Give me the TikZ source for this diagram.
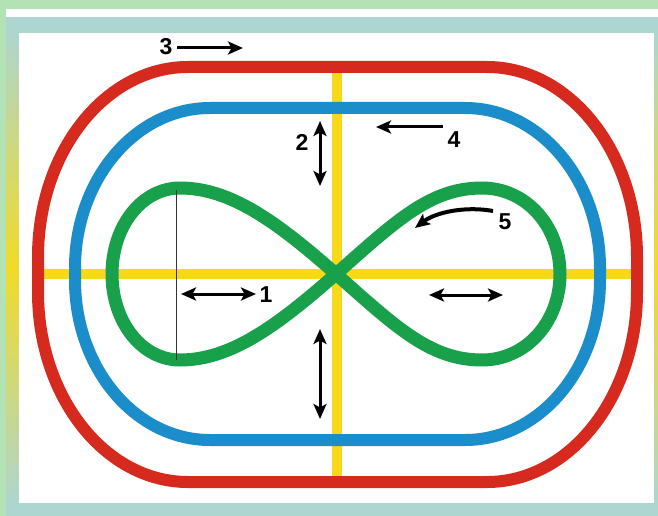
\documentclass[tikz,border=0pt]{standalone}
\usepackage{fontspec}
\setmainfont{Liberation Sans}
\usetikzlibrary{arrows.meta}
\definecolor{ringred}{HTML}{D62A1E}
\definecolor{ringblue}{HTML}{1B8DCB}
\definecolor{ringgreen}{HTML}{18A04A}
\definecolor{lineyellow}{HTML}{F7D91A}
\definecolor{bggreen}{HTML}{B3E2B4}
\definecolor{frameteal}{HTML}{AED6D0}
\definecolor{frameyellow}{HTML}{F2DA28}
\begin{document}
\begin{tikzpicture}[x=1pt,y=-1pt,
  ring/.style={line width=12pt, line join=round},
  cross/.style={line width=10.5pt, draw=lineyellow},
  arr/.style={line width=3pt, -{Stealth[length=15pt,width=13pt,inset=3.5pt]}},
  darr/.style={line width=3pt, {Stealth[length=15pt,width=13pt,inset=3.5pt]}-{Stealth[length=15pt,width=13pt,inset=3.5pt]}},
  lbl/.style={font=\bfseries\fontsize{23}{23}\selectfont, inner sep=0pt}]
\useasboundingbox (0,0) rectangle (658,516);
% frame
\fill[bggreen] (0,0) rectangle (658,516);
\fill[white] (6,9) rectangle (658,17);
\fill[frameteal] (6,17) rectangle (658,516);
\shade[top color=frameteal, bottom color=frameteal, middle color=frameyellow] (6,33) rectangle (19,503);
\shade[top color=frameteal, bottom color=frameteal, middle color=frameyellow] (654,33) rectangle (658,503);
\fill[white] (19,33) rectangle (654,503);
% yellow cross
\draw[cross] (38,274) -- (637,274);
\draw[cross] (337,67) -- (337,482);
% red ring
\draw[ring, draw=ringred] (188,67) -- (487,67)
  .. controls (569.8,67) and (637,152.1) .. (637,257) -- (637,292)
  .. controls (637,396.9) and (569.8,482) .. (487,482) -- (188,482)
  .. controls (105.2,482) and (38,396.9) .. (38,292) -- (38,257)
  .. controls (38,152.1) and (105.2,67) .. (188,67) -- cycle;
% blue ring
\draw[ring, draw=ringblue] (210,108) -- (465,108)
  .. controls (539.6,108) and (600,179.6) .. (600,268) -- (600,280)
  .. controls (600,368.4) and (539.6,440) .. (465,440) -- (210,440)
  .. controls (135.4,440) and (75,368.4) .. (75,280) -- (75,268)
  .. controls (75,179.6) and (135.4,108) .. (210,108) -- cycle;
% green figure eight
\draw[line width=13pt, draw=ringgreen, line join=round] (336,274)
  .. controls (276,221) and (230,188) .. (180,188)
  .. controls (142,188) and (112,226) .. (112,274)
  .. controls (112,322) and (142,360) .. (180,360)
  .. controls (230,360) and (276,327) .. (336,274)
  .. controls (396,221) and (430,188) .. (482,188)
  .. controls (526,188) and (560,226) .. (560,274)
  .. controls (560,322) and (526,360) .. (482,360)
  .. controls (430,360) and (396,327) .. (336,274) -- cycle;
% thin vertical line
\coordinate (t1) at (176,190);
\coordinate (t2) at (176,360);
\draw[line width=1pt, draw=black!80] (t1) -- (t2);
% arrows
\coordinate (a3s) at (177,48);  \coordinate (a3e) at (243,48);
\coordinate (a4s) at (443,127); \coordinate (a4e) at (376,127);
\coordinate (a2s) at (320,121); \coordinate (a2e) at (320,186);
\coordinate (a1s) at (181,294); \coordinate (a1e) at (256,294);
\coordinate (arS) at (429,295); \coordinate (arE) at (503,295);
\coordinate (avs) at (320,329); \coordinate (ave) at (320,419);
\coordinate (a5s) at (493,211); \coordinate (a5e) at (415,228);
\draw[arr] (a3s) -- (a3e);
\draw[arr] (a4s) -- (a4e);
\draw[darr] (a2s) -- (a2e);
\draw[darr] (a1s) -- (a1e);
\draw[darr] (arS) -- (arE);
\draw[darr] (avs) -- (ave);
\draw[arr, line width=4pt] (a5s) .. controls (466,206) and (436,212) .. (a5e);
% labels
\node[lbl] (l3) at (166,47) {3};
\node[lbl] (l2) at (302,142) {2};
\node[lbl] (l4) at (454,140) {4};
\node[lbl] (l5) at (505,222) {5};
\node[lbl] (l1) at (266,295) {1};
\end{tikzpicture}
\end{document}
